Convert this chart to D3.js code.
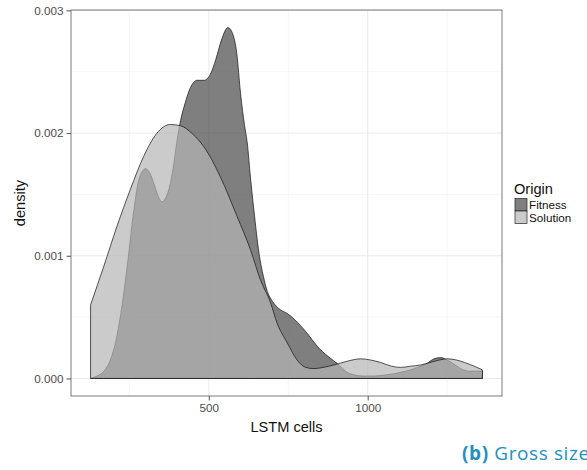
<!DOCTYPE html>
<html>
<head>
<meta charset="utf-8">
<script src="https://cdn.jsdelivr.net/npm/d3@7"></script>
<style>
  body { margin: 0; background: #fff; }
  text { font-family: "Liberation Sans", Arial, sans-serif; }
</style>
</head>
<body>
<script>
// density estimates (x = LSTM cells)
const fitnessX = [128, 148, 170, 190, 207, 222, 243, 264, 280, 301, 315, 327, 340, 353, 366, 379, 390, 400, 411, 425, 442, 463, 485, 505, 522, 540, 560, 575, 588, 600, 612, 621, 631, 642, 658, 672, 684, 700, 725, 747, 770, 789, 815, 842, 875, 910, 935, 957, 985, 1020, 1060, 1104, 1135, 1156, 1185, 1209, 1230, 1250, 1270, 1293, 1320, 1361];
const fitnessY = [0, 0.00002, 0.00006, 0.00015, 0.00030, 0.00051, 0.00091, 0.00137, 0.00162, 0.00171, 0.00167, 0.00159, 0.00149, 0.00144, 0.00148, 0.00159, 0.00175, 0.00194, 0.00210, 0.00224, 0.00237, 0.00243, 0.00243, 0.00248, 0.00260, 0.00276, 0.00286, 0.00281, 0.00265, 0.00232, 0.00207, 0.00192, 0.00164, 0.00137, 0.00102, 0.00083, 0.00071, 0.00063, 0.00056, 0.00053, 0.00048, 0.00043, 0.00035, 0.00026, 0.00018, 0.00011, 0.00005, 0.00003, 0.00002, 0.00002, 0.00003, 0.00005, 0.00007, 0.00009, 0.00012, 0.00016, 0.00017, 0.00015, 0.00012, 0.00008, 0.00006, 0.00006];

const solutionX = [128, 169, 211, 253, 295, 337, 379, 411, 450, 484, 537, 589, 631, 663, 694, 715, 747, 778, 805, 831, 860, 894, 935, 978, 1010, 1041, 1075, 1104, 1135, 1167, 1210, 1251, 1280, 1305, 1335, 1361];
const solutionY = [0.00060, 0.00091, 0.00124, 0.00154, 0.00181, 0.00200, 0.00207, 0.00206, 0.00199, 0.00189, 0.00164, 0.00132, 0.00105, 0.00080, 0.00062, 0.00045, 0.00029, 0.00015, 0.00009, 0.00008, 0.00009, 0.00011, 0.00014, 0.00016, 0.00015, 0.00013, 0.00010, 0.00009, 0.00010, 0.00011, 0.00014, 0.00016, 0.00015, 0.00013, 0.00010, 0.00007];

const origins = ["Fitness", "Solution"];
const xTicks = [500, 1000];
const xMinor = [250, 750, 1250];
const yTicks = [0, 0.001, 0.002, 0.003];
const yMinor = [0.0005, 0.0015, 0.0025];

const width = 587, height = 470;
const panel = {left: 71, right: 502, top: 10, bottom: 396};

const svg = d3.select('body')
  .append('svg')
  .attr('width', width)
  .attr('height', height);

// ggplot style 5% expansion of the data range
const xExt = d3.extent(fitnessX.concat(solutionX));
const xPad = (xExt[1] - xExt[0]) * 0.05;
const yMax = d3.max(fitnessY.concat(solutionY));
const yPad = yMax * 0.05;

const x = d3.scaleLinear().domain([xExt[0] - xPad, xExt[1] + xPad]).range([panel.left, panel.right]);
const y = d3.scaleLinear().domain([-yPad, yMax + yPad]).range([panel.bottom, panel.top]);

// grid lines
const grid = svg.append('g');
grid.selectAll('.xminor').data(xMinor).join('line')
  .attr('x1', d => x(d)).attr('x2', d => x(d))
  .attr('y1', panel.top).attr('y2', panel.bottom)
  .attr('stroke', '#f3f3f3').attr('stroke-width', 0.7);
grid.selectAll('.yminor').data(yMinor).join('line')
  .attr('y1', d => y(d)).attr('y2', d => y(d))
  .attr('x1', panel.left).attr('x2', panel.right)
  .attr('stroke', '#f3f3f3').attr('stroke-width', 0.7);
grid.selectAll('.xmajor').data(xTicks).join('line')
  .attr('x1', d => x(d)).attr('x2', d => x(d))
  .attr('y1', panel.top).attr('y2', panel.bottom)
  .attr('stroke', '#ebebeb').attr('stroke-width', 1);
grid.selectAll('.ymajor').data(yTicks).join('line')
  .attr('y1', d => y(d)).attr('y2', d => y(d))
  .attr('x1', panel.left).attr('x2', panel.right)
  .attr('stroke', '#ebebeb').attr('stroke-width', 1);

// density areas
const fills = {Fitness: '#484848', Solution: '#b5b5b5'};
const area = d3.area()
  .x(d => x(d[0]))
  .y0(y(0))
  .y1(d => y(d[1]))
  .curve(d3.curveMonotoneX);

const series = [
  {name: "Fitness", values: fitnessX.map((v, i) => [v, fitnessY[i]])},
  {name: "Solution", values: solutionX.map((v, i) => [v, solutionY[i]])}
];

svg.append('g').selectAll('path')
  .data(series)
  .join('path')
    .attr('d', d => area(d.values))
    .attr('fill', d => fills[d.name])
    .attr('fill-opacity', 0.7)
    .attr('stroke', '#111')
    .attr('stroke-width', 0.7)
    .attr('stroke-linejoin', 'round');

// panel border
svg.append('rect')
  .attr('x', panel.left).attr('y', panel.top)
  .attr('width', panel.right - panel.left).attr('height', panel.bottom - panel.top)
  .attr('fill', 'none').attr('stroke', '#7a7a7a').attr('stroke-width', 1);

// axes
const xAxis = svg.append('g')
  .attr('transform', `translate(0,${panel.bottom})`)
  .call(d3.axisBottom(x).tickValues(xTicks).tickFormat(d3.format('d')).tickSize(4.5).tickPadding(3));
const yAxis = svg.append('g')
  .attr('transform', `translate(${panel.left},0)`)
  .call(d3.axisLeft(y).tickValues(yTicks).tickFormat(d3.format('.3f')).tickSize(4.5).tickPadding(3));

[xAxis, yAxis].forEach(a => {
  a.select('.domain').remove();
  a.selectAll('.tick line').attr('stroke', '#555');
  a.selectAll('.tick text')
    .attr('fill', '#4d4d4d')
    .style('font-size', '11.7px')
    .style('font-family', '"Liberation Sans", Arial, sans-serif');
});

// axis titles
svg.append('text')
  .attr('x', (panel.left + panel.right) / 2)
  .attr('y', 431.5)
  .attr('text-anchor', 'middle')
  .style('font-size', '14.6px')
  .attr('fill', '#111')
  .text('LSTM cells');

svg.append('text')
  .attr('transform', `translate(25,${(panel.top + panel.bottom) / 2}) rotate(-90)`)
  .attr('text-anchor', 'middle')
  .style('font-size', '14.6px')
  .attr('fill', '#111')
  .text('density');

// legend
const legend = svg.append('g').attr('transform', 'translate(514,0)');
legend.append('text')
  .attr('x', 0).attr('y', 194)
  .style('font-size', '14.6px')
  .attr('fill', '#111')
  .text('Origin');

const keys = legend.selectAll('g.key')
  .data(origins)
  .join('g')
    .attr('transform', (d, i) => `translate(0,${198.5 + i * 12.5})`);
keys.append('rect')
  .attr('x', 1).attr('y', 0)
  .attr('width', 12).attr('height', 12.5)
  .attr('fill', '#fff');
keys.append('rect')
  .attr('x', 1).attr('y', 0)
  .attr('width', 12).attr('height', 12.5)
  .attr('fill', d => fills[d])
  .attr('fill-opacity', 0.7)
  .attr('stroke', '#222')
  .attr('stroke-width', 0.7);
keys.append('text')
  .attr('x', 15).attr('y', 10.5)
  .style('font-size', '11.7px')
  .attr('fill', '#111')
  .text(d => d);

// sub-figure caption
const caption = svg.append('text')
  .attr('x', 462).attr('y', 459.5)
  .style('font-family', '"Open Sans", sans-serif')
  .style('font-size', '19px')
  .style('letter-spacing', '0.6px')
  .attr('fill', '#2390bd');
caption.append('tspan').style('font-weight', 'bold').text('(b)');
caption.append('tspan').text(' Gross size');
</script>
</body>
</html>
